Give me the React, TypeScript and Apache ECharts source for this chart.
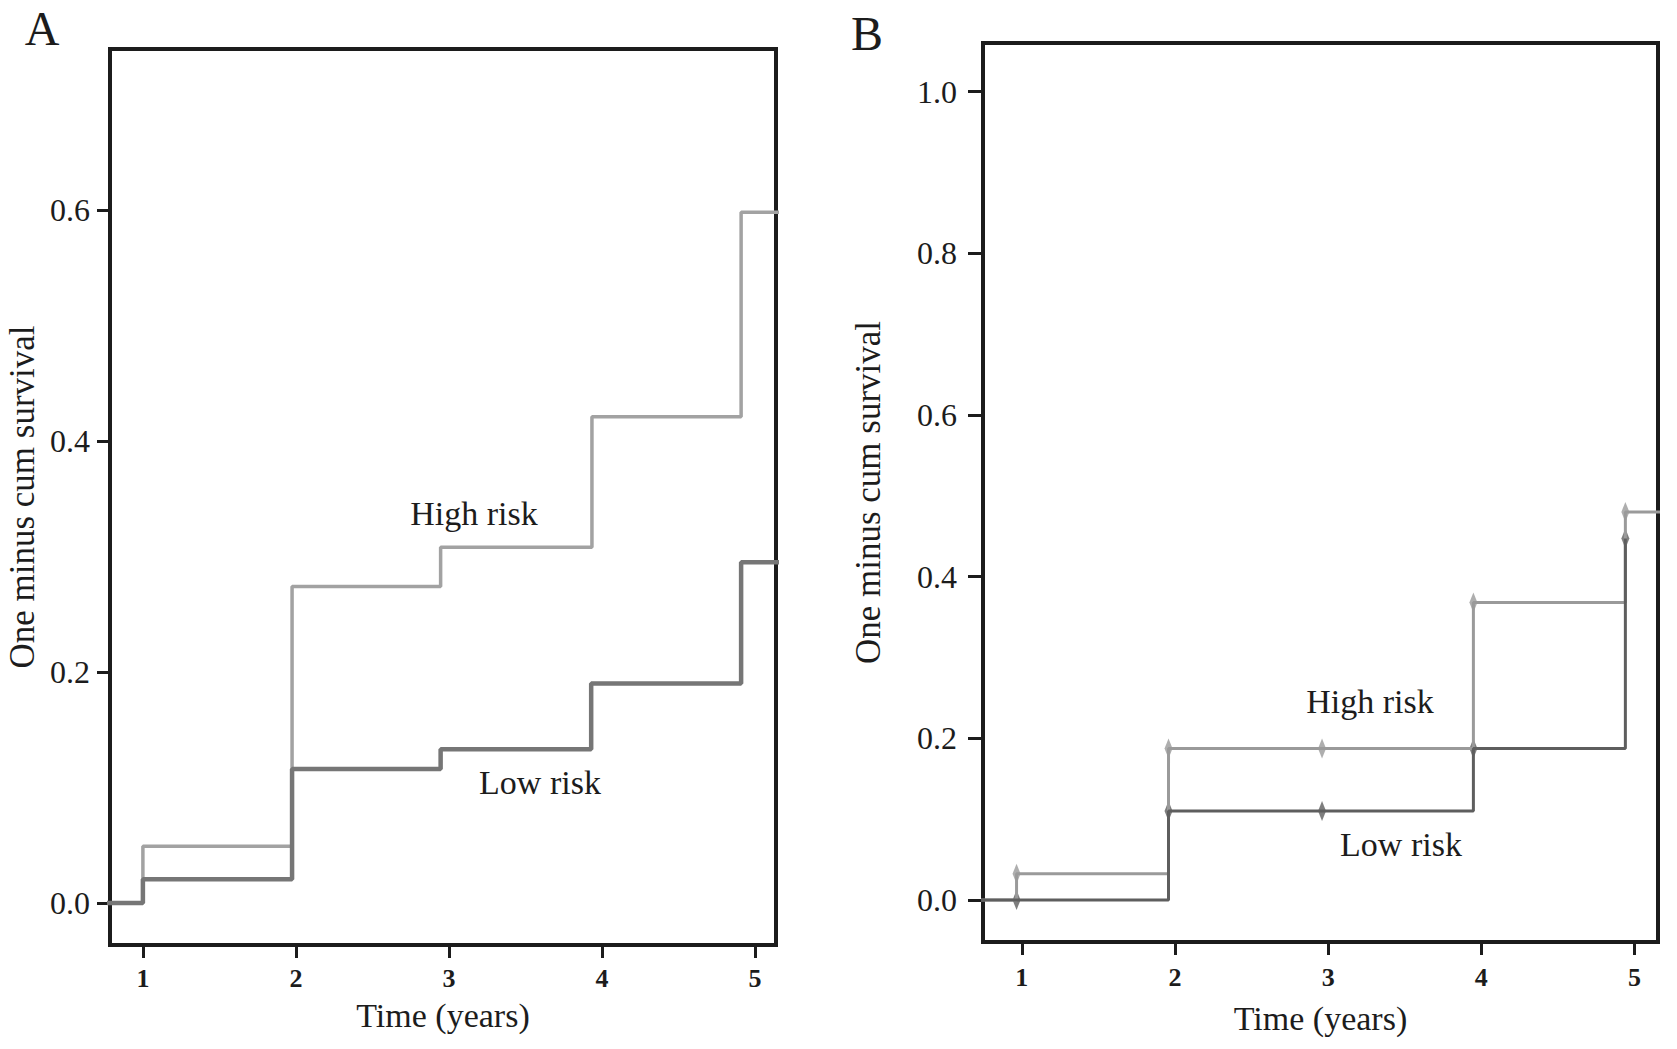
import React, { useEffect, useRef } from "react";
import * as echarts from "echarts";

// ---- data ----
const xTickValues = [1, 2, 3, 4, 5];
const yTickValuesA = [0, 0.2, 0.4, 0.6];
const yTickValuesB = [0, 0.2, 0.4, 0.6, 0.8, 1.0];

// Panel A (step curves, value holds until next time)
const timesHighA = [0, 1.0, 1.975, 2.946, 3.935, 4.91, 5.3];
const riskHighA = [0, 0.049, 0.274, 0.308, 0.421, 0.598, 0.598];
const timesLowA = [0, 1.0, 1.975, 2.946, 3.93, 4.91, 5.3];
const riskLowA = [0, 0.0205, 0.116, 0.133, 0.19, 0.295, 0.295];

// Panel B
const timesHighB = [0, 0.966, 1.958, 3.948, 4.94, 5.3];
const riskHighB = [0, 0.0325, 0.1875, 0.368, 0.48, 0.48];
const timesLowB = [0, 1.958, 3.948, 4.94];
const riskLowB = [0, 0.11, 0.1875, 0.447];

// censored marks (panel B)
const censorHighTimesB = [0.966, 1.958, 2.96, 3.948, 4.94];
const censorHighRiskB = [0.0325, 0.1875, 0.1875, 0.368, 0.48];
const censorLowTimesB = [0.966, 1.958, 2.96, 3.948, 4.94];
const censorLowRiskB = [0, 0.11, 0.11, 0.1875, 0.447];

const FONT = "'Liberation Serif', 'DejaVu Serif', serif";
const INK = "#1c1c1c";
const HIGH_A = "#a2a2a2";
const LOW_A = "#767676";
const HIGH_B = "#9a9a9a";
const LOW_B = "#5e5e5e";

const zip = (xs: number[], ys: number[]) => xs.map((x, i) => [x, ys[i]]);

function xAxisOf(gridIndex: number, min: number, max: number, margin: number, nameGap: number) {
  return {
    type: "value",
    gridIndex,
    min,
    max,
    name: "Time (years)",
    nameLocation: "middle",
    nameGap,
    nameTextStyle: { fontFamily: FONT, fontSize: 34, color: INK },
    axisLine: { show: true, onZero: false, lineStyle: { color: INK, width: 4 } },
    axisTick: {
      show: true,
      length: 13,
      customValues: xTickValues,
      lineStyle: { color: INK, width: 3 },
    },
    axisLabel: {
      show: true,
      customValues: xTickValues,
      margin,
      fontFamily: FONT,
      fontSize: 26,
      fontWeight: "bold",
      color: INK,
      formatter: (v: number) => String(Math.round(v)),
    },
    splitLine: { show: false },
  };
}

function yAxisOf(
  gridIndex: number,
  min: number,
  max: number,
  ticks: number[],
  margin: number,
  tickLen: number,
  nameGap: number
) {
  return {
    type: "value",
    gridIndex,
    min,
    max,
    name: "One minus cum survival",
    nameLocation: "middle",
    nameGap,
    nameTextStyle: { fontFamily: FONT, fontSize: 35, color: INK },
    axisLine: { show: true, onZero: false, lineStyle: { color: INK, width: 4 } },
    axisTick: {
      show: true,
      length: tickLen,
      customValues: ticks,
      lineStyle: { color: INK, width: 3 },
    },
    axisLabel: {
      show: true,
      customValues: ticks,
      margin,
      fontFamily: FONT,
      fontSize: 32,
      color: INK,
      formatter: (v: number) => v.toFixed(1),
    },
    splitLine: { show: false },
  };
}

export default function App() {
  const ref = useRef<HTMLDivElement>(null);

  useEffect(() => {
    if (!ref.current) return;
    const chart = echarts.init(ref.current, undefined, { renderer: "svg" });

    const option = {
      animation: false,
      backgroundColor: "#ffffff",
      grid: [
        {
          left: 110,
          top: 49,
          width: 666,
          height: 896,
          show: true,
          borderColor: INK,
          borderWidth: 4,
          backgroundColor: "transparent",
        },
        {
          left: 983,
          top: 43,
          width: 675,
          height: 899,
          show: true,
          borderColor: INK,
          borderWidth: 4,
          backgroundColor: "transparent",
        },
      ],
      xAxis: [xAxisOf(0, 0.785, 5.138, 20, 53), xAxisOf(1, 0.747, 5.153, 22, 59)],
      yAxis: [
        yAxisOf(0, -0.0364, 0.7394, yTickValuesA, 20, 13, 70),
        yAxisOf(1, -0.052, 1.06, yTickValuesB, 26, 15, 97),
      ],
      series: [
        {
          type: "line",
          name: "High risk A",
          xAxisIndex: 0,
          yAxisIndex: 0,
          step: "end",
          symbol: "none",
          clip: true,
          data: zip(timesHighA, riskHighA),
          lineStyle: { color: HIGH_A, width: 3.5 },
        },
        {
          type: "line",
          name: "Low risk A",
          xAxisIndex: 0,
          yAxisIndex: 0,
          step: "end",
          symbol: "none",
          clip: true,
          data: zip(timesLowA, riskLowA),
          lineStyle: { color: LOW_A, width: 4.5 },
        },
        {
          type: "line",
          name: "High risk B",
          xAxisIndex: 1,
          yAxisIndex: 1,
          step: "end",
          symbol: "none",
          clip: true,
          data: zip(timesHighB, riskHighB),
          lineStyle: { color: HIGH_B, width: 3 },
        },
        {
          type: "line",
          name: "Low risk B",
          xAxisIndex: 1,
          yAxisIndex: 1,
          step: "end",
          symbol: "none",
          clip: true,
          data: zip(timesLowB, riskLowB),
          lineStyle: { color: LOW_B, width: 3 },
        },
        {
          type: "scatter",
          name: "High risk censored",
          xAxisIndex: 1,
          yAxisIndex: 1,
          symbol: "diamond",
          symbolSize: [8, 20],
          data: zip(censorHighTimesB, censorHighRiskB),
          itemStyle: { color: HIGH_B },
        },
        {
          type: "scatter",
          name: "Low risk censored",
          xAxisIndex: 1,
          yAxisIndex: 1,
          symbol: "diamond",
          symbolSize: [8, 20],
          data: zip(censorLowTimesB, censorLowRiskB),
          itemStyle: { color: LOW_B },
        },
      ],
      graphic: [
        {
          type: "text",
          x: 42,
          y: 28,
          style: { text: "A", fontFamily: FONT, fontSize: 48, fill: INK, align: "center", verticalAlign: "middle" },
        },
        {
          type: "text",
          x: 867,
          y: 33,
          style: { text: "B", fontFamily: FONT, fontSize: 48, fill: INK, align: "center", verticalAlign: "middle" },
        },
        {
          type: "text",
          x: 474,
          y: 513,
          style: { text: "High risk", fontFamily: FONT, fontSize: 34, fill: INK, align: "center", verticalAlign: "middle" },
        },
        {
          type: "text",
          x: 540,
          y: 782,
          style: { text: "Low risk", fontFamily: FONT, fontSize: 34, fill: INK, align: "center", verticalAlign: "middle" },
        },
        {
          type: "text",
          x: 1370,
          y: 701,
          style: { text: "High risk", fontFamily: FONT, fontSize: 34, fill: INK, align: "center", verticalAlign: "middle" },
        },
        {
          type: "text",
          x: 1401,
          y: 844,
          style: { text: "Low risk", fontFamily: FONT, fontSize: 34, fill: INK, align: "center", verticalAlign: "middle" },
        },
      ],
    };

    chart.setOption(option as any);
    return () => chart.dispose();
  }, []);

  return (
    <div
      ref={ref}
      style={{ position: "fixed", left: 0, top: 0, width: 1677, height: 1049, background: "#fff" }}
    />
  );
}
